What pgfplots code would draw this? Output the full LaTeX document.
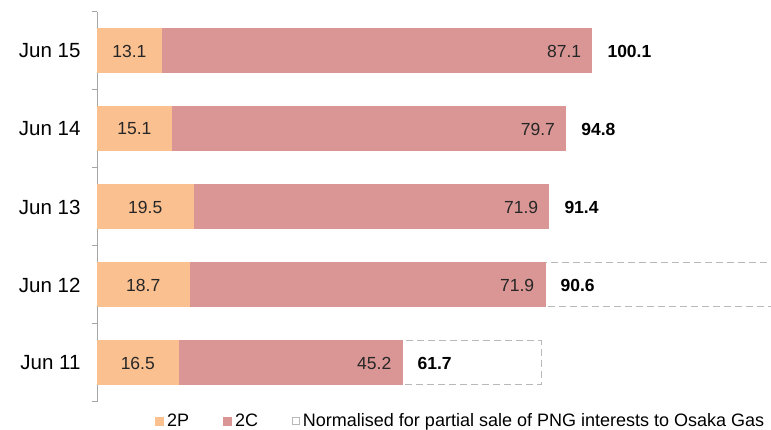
\documentclass[border=0pt]{standalone}
\usepackage{pgfplots}
\pgfplotsset{compat=1.18}
\usepackage{pgfplotstable}
\usepackage{fontspec}
\setmainfont{Liberation Sans}
\definecolor{twoP}{HTML}{FAC090}
\definecolor{twoC}{HTML}{D99694}
\definecolor{axisgray}{HTML}{A6A6A6}
\definecolor{dashgray}{HTML}{B8B8B8}

% reserves by year (y: 0 = Jun 11 ... 4 = Jun 15)
\pgfplotstableread{
y p2 c2 total
0 16.5 45.2 61.7
1 18.7 71.9 90.6
2 19.5 71.9 91.4
3 15.1 79.7 94.8
4 13.1 87.1 100.1
}\reserves

\begin{document}
\begin{tikzpicture}[x=1pt,y=1pt]
\path[use as bounding box] (0,0) rectangle (771,430);
\begin{axis}[
  at={(97pt,28pt)}, anchor=south west,
  scale only axis, width=674pt, height=390pt,
  xmin=0, xmax=136.3, ymin=-0.5, ymax=4.5,
  axis x line=none, axis y line*=left,
  axis line style={axisgray, line width=1pt, -},
  ytick={0,...,4}, yticklabels={Jun 11,Jun 12,Jun 13,Jun 14,Jun 15},
  major tick length=0pt,
  minor ytick={-0.5,0.5,...,4.5}, minor tick length=5pt, tick align=outside,
  minor tick style={axisgray, line width=1pt},
  yticklabel style={font=\fontsize{20.5}{23}\selectfont, xshift=-13pt},
  /pgf/bar width=44pt,
  reverse legend,
  legend style={at={(0.086,-0.049)}, anchor=west, draw=none, fill=none,
    legend columns=-1, font=\fontsize{18}{20}\selectfont,
    /tikz/every even column/.append style={column sep=31pt},
    nodes={inner xsep=3pt},
    inner sep=0pt},
  legend cell align=left,
]
\addplot[xbar, /pgf/bar shift=0pt, fill=white, draw=dashgray, dash pattern=on 7pt off 4pt, line width=1pt,
  legend image code/.code={\draw[dashgray, fill=white, solid, line width=0.8pt] (0pt,-3.5pt) rectangle (7pt,3.5pt);}]
  coordinates {(89.8,0) (140,1)};
\addlegendentry{Normalised for partial sale of PNG interests to Osaka Gas}
\addplot[xbar, /pgf/bar shift=0pt, fill=twoC, draw=twoC, line width=1pt,
  legend image code/.code={\fill[twoC] (0pt,-4pt) rectangle (8pt,4pt);},
  nodes near coords, point meta=explicit symbolic,
  every node near coord/.append style={anchor=east, xshift=-7pt, font=\fontsize{17.5}{19}\selectfont, text=black!85}]
  table[x=total, y=y, meta=c2] {\reserves};
\addlegendentry{2C}
\addplot[xbar, /pgf/bar shift=0pt, fill=twoP, draw=twoP, line width=1pt,
  legend image code/.code={\fill[twoP] (0pt,-4pt) rectangle (8pt,4pt);}]
  table[x=p2, y=y] {\reserves};
\addlegendentry{2P}
% 2P labels, centred in the segment
\addplot[forget plot, draw=none, mark=none, nodes near coords, point meta=explicit symbolic,
  every node near coord/.append style={anchor=center, font=\fontsize{17.5}{19}\selectfont, text=black!85}]
  table[x expr=\thisrow{p2}/2, y=y, meta=p2] {\reserves};
% totals
\addplot[forget plot, draw=none, mark=none, nodes near coords, point meta=explicit symbolic,
  every node near coord/.append style={anchor=west, xshift=12pt, font=\fontsize{17.5}{19}\selectfont\bfseries}]
  table[x=total, y=y, meta=total] {\reserves};
\end{axis}
\end{tikzpicture}
\end{document}
